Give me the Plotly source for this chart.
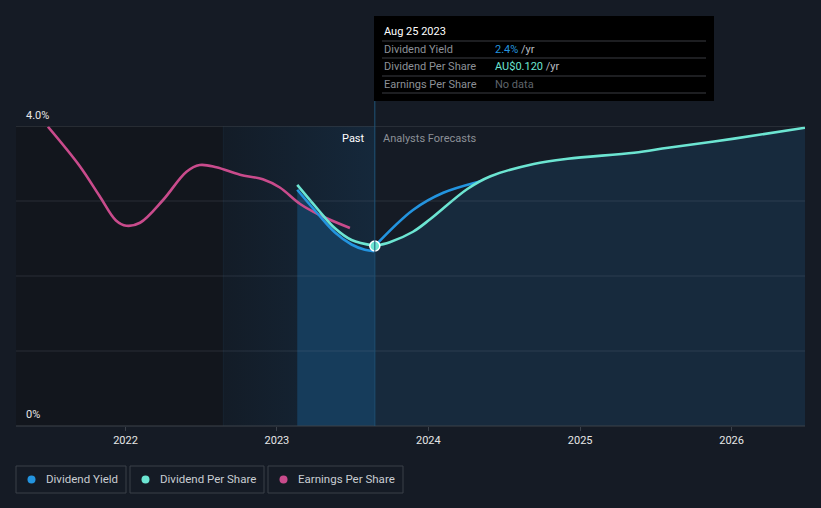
import plotly.graph_objects as go

# ---------------- data ----------------
eps_dates = ["2021-06-28", "2021-09-12", "2021-10-30", "2021-12-09", "2022-01-03", "2022-02-05",
             "2022-04-01", "2022-05-28", "2022-06-29", "2022-08-08", "2022-10-04", "2022-11-28",
             "2023-01-08", "2023-02-26", "2023-04-15", "2023-06-26"]
eps_values = [3.99, 3.47, 3.07, 2.74, 2.67, 2.71, 3.01, 3.39, 3.48, 3.45, 3.35, 3.29,
              3.18, 2.96, 2.81, 2.64]

dy_past_dates = ["2023-02-19", "2023-04-11", "2023-05-21", "2023-06-30", "2023-08-01", "2023-08-24"]
dy_past_values = [3.15, 2.82, 2.58, 2.42, 2.35, 2.33]

dps_past_dates = ["2023-02-19", "2023-04-11", "2023-05-21", "2023-06-30", "2023-08-24"]
dps_past_values = [0.1607, 0.1440, 0.1318, 0.1240, 0.1202]

dy_fc_dates = ["2023-08-25", "2023-11-25", "2024-02-06", "2024-05-30", "2024-09-11", "2024-12-02",
               "2025-05-11", "2025-08-01", "2026-01-07", "2026-06-27"]
dy_fc_values = [2.40, 2.88, 3.11, 3.30, 3.464, 3.534, 3.614, 3.68, 3.802, 3.946]

dps_fc_dates = ["2023-08-25", "2023-09-30", "2023-11-25", "2024-01-06", "2024-04-04", "2024-05-30",
                "2024-09-11", "2024-12-02", "2025-05-11", "2025-08-01", "2026-01-07", "2026-06-27"]
dps_fc_values = [0.1200, 0.1225, 0.1295, 0.1380, 0.1580, 0.1665, 0.1747, 0.1782, 0.1822, 0.1855,
                 0.1916, 0.1988]

today = "2023-08-25"
today_dps = 0.120
past_start = "2022-08-25"
x_range = ["2021-04-12", "2026-06-27"]
y_grid = [1, 2, 3]
x_tick_vals = ["2022-01-01", "2023-01-01", "2024-01-01", "2025-01-01", "2026-01-01"]
x_tick_text = ["2022", "2023", "2024", "2025", "2026"]

tooltip_date = "Aug 25 2023"
tooltip_rows = [("Dividend Yield", "2.4%", "#2394df"),
                ("Dividend Per Share", "AU$0.120", "#6ce5d2"),
                ("Earnings Per Share", "No data", None)]
legend_items = [("Dividend Yield", "#2394df"), ("Dividend Per Share", "#6ce5d2"),
                ("Earnings Per Share", "#c94b8c")]

BG = "#151b25"
BLUE = "#2394df"
TEAL = "#6ce5d2"
PINK = "#c94b8c"

W, H = 821, 508
L, R, T, B = 16, 16, 126, 82
pw, ph = W - L - R, H - T - B


def px(x):
    return (x - L) / pw


def py(y):
    return (H - B - y) / ph


fig = go.Figure()

# past shaded region (gradient)
fig.add_trace(go.Scatter(
    x=[past_start, today, today, past_start, past_start], y=[0, 0, 4, 4, 0],
    fill="toself", mode="lines", line=dict(width=0),
    fillgradient=dict(type="horizontal", colorscale=[[0, "#131c27"], [1, "#15283b"]]),
    hoverinfo="skip", showlegend=False))

# bright fill under past dividend yield
fig.add_trace(go.Scatter(x=dy_past_dates, y=dy_past_values, fill="tozeroy", mode="none",
                         fillcolor="#163c5b", line_shape="spline", hoverinfo="skip", showlegend=False))
# forecast fill under dps forecast
fig.add_trace(go.Scatter(x=dps_fc_dates, y=dps_fc_values, yaxis="y2", fill="tozeroy", mode="none",
                         fillcolor="#172a3d", line_shape="spline", hoverinfo="skip", showlegend=False))

shapes = []
# dark left region
shapes.append(dict(type="rect", xref="x", yref="paper", x0=x_range[0], x1=past_start, y0=0, y1=1,
                   fillcolor="#12161d", line=dict(width=0), layer="below"))
shapes.append(dict(type="line", xref="x", yref="paper", x0=past_start, x1=past_start, y0=0, y1=1,
                   line=dict(color="#1a2a3a", width=1), layer="below"))
# grid lines (drawn over the fills)
for g in y_grid:
    shapes.append(dict(type="line", xref="paper", yref="y", x0=0, x1=1, y0=g, y1=g,
                       line=dict(color="rgba(120,130,145,0.22)", width=1)))
# top line and bottom axis line
shapes.append(dict(type="line", xref="paper", yref="y", x0=0, x1=1, y0=4, y1=4,
                   line=dict(color="#3c424b", width=1)))
shapes.append(dict(type="line", xref="paper", yref="paper", x0=0, x1=1, y0=0, y1=0,
                   line=dict(color="#3c424b", width=1)))
# today line
shapes.append(dict(type="line", xref="x", yref="paper", x0=today, x1=today, y0=0, y1=py(101),
                   line=dict(color="#1f5478", width=1)))
# tooltip box
shapes.append(dict(type="rect", xref="paper", yref="paper", x0=px(374), x1=px(714), y0=py(101), y1=py(16),
                   fillcolor="#000000", line=dict(width=0)))
for yy in [41, 58, 76, 93]:
    shapes.append(dict(type="line", xref="paper", yref="paper", x0=px(382), x1=px(706), y0=py(yy), y1=py(yy),
                       line=dict(color="#3a3d42", width=1)))

# lines (drawn after fills and grid)
fig.add_trace(go.Scatter(x=eps_dates, y=eps_values, mode="lines", line=dict(color=PINK, width=2.6, shape="spline"),
                         name="Earnings Per Share", showlegend=False))
fig.add_trace(go.Scatter(x=dy_past_dates, y=dy_past_values, mode="lines", line=dict(color=BLUE, width=2.6, shape="spline"),
                         name="Dividend Yield", showlegend=False))
fig.add_trace(go.Scatter(x=dy_fc_dates, y=dy_fc_values, mode="lines", line=dict(color=BLUE, width=2.6, shape="spline"),
                         name="Dividend Yield", showlegend=False))
fig.add_trace(go.Scatter(x=dps_past_dates, y=dps_past_values, yaxis="y2", mode="lines",
                         line=dict(color=TEAL, width=2.6, shape="spline"), name="Dividend Per Share", showlegend=False))
fig.add_trace(go.Scatter(x=dps_fc_dates, y=dps_fc_values, yaxis="y2", mode="lines",
                         line=dict(color=TEAL, width=2.6, shape="spline"), name="Dividend Per Share", showlegend=False))
fig.add_trace(go.Scatter(x=[today], y=[today_dps], yaxis="y2", mode="markers",
                         marker=dict(color=TEAL, size=10, line=dict(color="white", width=1.5)),
                         hoverinfo="skip", showlegend=False))

annotations = []
annotations.append(dict(xref="paper", yref="paper", x=px(382), y=py(31), xanchor="left", yanchor="middle",
                        text=tooltip_date, showarrow=False, font=dict(color="#ffffff", size=11, family="Roboto")))
for i, (lab, val, col) in enumerate(tooltip_rows):
    yrow = [49, 66, 84][i]
    annotations.append(dict(xref="paper", yref="paper", x=px(382), y=py(yrow), xanchor="left", yanchor="middle",
                            text=lab, showarrow=False, font=dict(color="#8c9097", size=11, family="Roboto")))
    if col:
        txt = f"<span style='color:{col}'>{val}</span><span style='color:#b9bcc1'> /yr</span>"
    else:
        txt = f"<span style='color:#5f646b'>{val}</span>"
    annotations.append(dict(xref="paper", yref="paper", x=px(493), y=py(yrow), xanchor="left", yanchor="middle",
                            text=txt, showarrow=False, font=dict(size=11, family="Roboto")))

annotations.append(dict(xref="x", yref="paper", x=today, y=py(138), xanchor="right", yanchor="middle",
                        xshift=-8, text="Past", showarrow=False, font=dict(color="#ffffff", size=11, family="Roboto")))
annotations.append(dict(xref="x", yref="paper", x=today, y=py(138), xanchor="left", yanchor="middle",
                        xshift=6, text="Analysts Forecasts", showarrow=False,
                        font=dict(color="#8c9097", size=11, family="Roboto")))
annotations.append(dict(xref="paper", yref="paper", x=px(24), y=py(115), xanchor="left", yanchor="middle",
                        text="4.0%", showarrow=False, font=dict(color="#e6e6e6", size=11, family="Roboto")))
annotations.append(dict(xref="paper", yref="paper", x=px(24), y=py(414), xanchor="left", yanchor="middle",
                        text="0%", showarrow=False, font=dict(color="#e6e6e6", size=11, family="Roboto")))

# custom legend
boxes = [(16, 126), (130, 264), (268, 403)]
for (x0, x1), (lab, col) in zip(boxes, legend_items):
    shapes.append(dict(type="rect", xref="paper", yref="paper", x0=px(x0), x1=px(x1), y0=py(493), y1=py(466),
                       fillcolor=BG, line=dict(color="#3a4049", width=1)))
    shapes.append(dict(type="circle", xref="paper", yref="paper", x0=px(x0 + 11.5), x1=px(x0 + 19.5),
                       y0=py(483.5), y1=py(475.5), fillcolor=col, line=dict(width=0)))
    annotations.append(dict(xref="paper", yref="paper", x=px(x0 + 28), y=py(479.5), xanchor="left", yanchor="middle",
                            text=lab, showarrow=False, font=dict(color="#c9cdd2", size=11.5, family="Roboto")))

fig.update_layout(
    width=W, height=H,
    margin=dict(l=L, r=R, t=T, b=B),
    paper_bgcolor=BG, plot_bgcolor=BG,
    showlegend=False,
    shapes=shapes, annotations=annotations,
    xaxis=dict(type="date", range=x_range, showgrid=False, zeroline=False,
               tickvals=x_tick_vals, ticktext=x_tick_text, ticks="outside", ticklen=4,
               tickcolor="#3c424b", tickfont=dict(color="#e6e6e6", size=11, family="Roboto"),
               showline=False, fixedrange=True),
    yaxis=dict(range=[0, 4], showticklabels=False, showgrid=False, zeroline=False, showline=False,
               fixedrange=True),
    yaxis2=dict(range=[0, 0.2], overlaying="y", visible=False, showgrid=False, fixedrange=True),
    hovermode=False,
)

fig.write_html("out.html", config={"displayModeBar": False},
               post_script="document.body.style.margin='0';document.body.style.background='#151b25';")
